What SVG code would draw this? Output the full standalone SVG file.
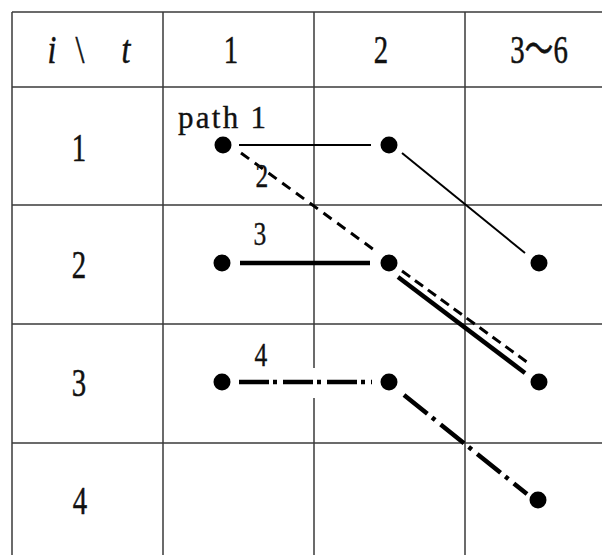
<svg xmlns="http://www.w3.org/2000/svg" width="602" height="558" viewBox="0 0 602 558">
<style>
.g{stroke:#3a3a3a;stroke-width:1.5;fill:none}
.t{font-family:"Liberation Serif","Noto Sans CJK JP",serif;font-size:40px;fill:#111;stroke:#111;stroke-width:0.5;text-anchor:middle}
.s{font-family:"Liberation Serif",serif;font-size:34px;fill:#111;stroke:#111;stroke-width:0.4;text-anchor:middle}
.d{fill:#000}
.c{stroke:#000;fill:none;stroke-linecap:butt}
</style>
<rect width="602" height="558" fill="#fff"/>
<g id="grid">
<line class="g" x1="12" y1="12" x2="602" y2="12"/>
<line class="g" x1="12" y1="87" x2="602" y2="87"/>
<line class="g" x1="12" y1="205" x2="602" y2="205"/>
<line class="g" x1="12" y1="324" x2="602" y2="324"/>
<line class="g" x1="12" y1="443" x2="602" y2="443"/>
<line class="g" x1="12" y1="12" x2="12" y2="555"/>
<line class="g" x1="163" y1="12" x2="163" y2="555"/>
<line class="g" x1="314" y1="12" x2="314" y2="368"/>
<line class="g" x1="314" y1="398" x2="314" y2="555"/>
<line class="g" x1="465" y1="12" x2="465" y2="555"/>
</g>
<g id="header">
<text x="52" y="63" class="t" font-style="italic" transform="translate(52 0) scale(0.8 1) translate(-52 0)">i</text>
<text x="80" y="63" class="t" transform="translate(80 0) scale(0.8 1) translate(-80 0)">\</text>
<text x="126" y="63" class="t" font-style="italic" transform="translate(126 0) scale(0.8 1) translate(-126 0)">t</text>
<text x="231" y="63" class="t" transform="translate(231 0) scale(0.72 1) translate(-231 0)">1</text>
<text x="381" y="63" class="t" transform="translate(381 0) scale(0.72 1) translate(-381 0)">2</text>
<text x="539" y="63" class="t" transform="translate(539 0) scale(0.72 1) translate(-539 0)">3～6</text>
</g>
<g id="rows">
<text x="79" y="161" class="t" transform="translate(79 0) scale(0.72 1) translate(-79 0)">1</text>
<text x="79" y="278" class="t" transform="translate(79 0) scale(0.72 1) translate(-79 0)">2</text>
<text x="79" y="396" class="t" transform="translate(79 0) scale(0.72 1) translate(-79 0)">3</text>
<text x="80" y="514" class="t" transform="translate(80 0) scale(0.72 1) translate(-80 0)">4</text>
</g>
<g id="connectors">
<line class="c" x1="239" y1="145" x2="371" y2="145" stroke-width="2"/>
<line class="c" x1="402" y1="153" x2="525" y2="253" stroke-width="2"/>
<line class="c" x1="241" y1="153" x2="377" y2="252" stroke-width="3" stroke-dasharray="10 7"/>
<line class="c" x1="402" y1="271" x2="531" y2="365" stroke-width="3" stroke-dasharray="10 6"/>
<line class="c" x1="240" y1="263" x2="370" y2="263" stroke-width="4.5"/>
<line class="c" x1="398" y1="277" x2="525" y2="373" stroke-width="4.5"/>
<line class="c" x1="239" y1="382" x2="372" y2="382" stroke-width="4.5" stroke-dasharray="30 4 4 6"/>
<line class="c" x1="404" y1="395" x2="527" y2="494" stroke-width="4.5" stroke-dasharray="30 6 4 7"/>
</g>
<g id="labels">
<text x="178" y="128" font-family="Liberation Serif,serif" font-size="31" fill="#111" stroke="#111" stroke-width="0.35" textLength="88" lengthAdjust="spacing">path 1</text>
<text x="262" y="187" class="s" transform="translate(262 0) scale(0.75 1) translate(-262 0)">2</text>
<text x="260" y="245" class="s" transform="translate(260 0) scale(0.75 1) translate(-260 0)">3</text>
<text x="261" y="366" class="s" transform="translate(261 0) scale(0.75 1) translate(-261 0)">4</text>
</g>
<g id="n11"><circle class="d" cx="223" cy="145" r="8.5"/></g>
<g id="n12"><circle class="d" cx="389" cy="145" r="8.5"/></g>
<g id="n21"><circle class="d" cx="222" cy="263" r="8.5"/></g>
<g id="n22"><circle class="d" cx="389" cy="263" r="8.5"/></g>
<g id="n23"><circle class="d" cx="539" cy="263" r="8.5"/></g>
<g id="n31"><circle class="d" cx="222" cy="382" r="8.5"/></g>
<g id="n32"><circle class="d" cx="389" cy="382" r="8.5"/></g>
<g id="n33"><circle class="d" cx="539" cy="382" r="8.5"/></g>
<g id="n43"><circle class="d" cx="538" cy="500" r="8.5"/></g>
</svg>
